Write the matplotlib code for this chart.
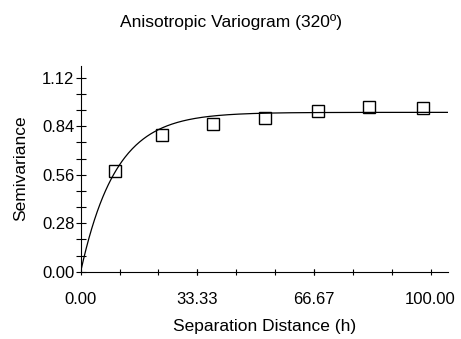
import matplotlib
matplotlib.use("Agg")
import matplotlib.pyplot as plt
import numpy as np
from matplotlib.ticker import FixedLocator

plt.rcParams['font.family'] = ['Liberation Sans', 'DejaVu Sans']

# Experimental variogram (lag distance, semivariance)
lag_h = [9.8, 23.1, 37.8, 52.6, 67.8, 82.5, 97.7]
semivar = [0.583, 0.789, 0.851, 0.889, 0.930, 0.953, 0.945]

# Fitted exponential model parameters
model_sill = 0.92
model_range = 30.0

x_ticks = [0.0, 33.33, 66.67, 100.0]
x_tick_labels = ["0.00", "33.33", "66.67", "100.00"]
y_ticks = [0.0, 0.28, 0.56, 0.84, 1.12]
y_tick_labels = ["0.00", "0.28", "0.56", "0.84", "1.12"]

fig = plt.figure(figsize=(4.61, 3.39), dpi=100)
ax = fig.add_axes([0.175, 0.1985, 0.797, 0.608])

# Model curve
h = np.linspace(0, 105, 400)
gamma = model_sill * (1 - np.exp(-3 * h / model_range))
ax.plot(h, gamma, color='black', lw=0.9)

# Experimental points
ax.plot(lag_h, semivar, linestyle='none', marker='s', markersize=8.6,
        markerfacecolor='none', markeredgecolor='black', markeredgewidth=1.0)

ax.set_xlim(0, 105)
ax.set_ylim(0, 1.19)

ax.set_xticks(x_ticks)
ax.set_xticklabels(x_tick_labels)
ax.set_yticks(y_ticks)
ax.set_yticklabels(y_tick_labels)
ax.xaxis.set_minor_locator(FixedLocator(np.arange(0, 101, 100 / 9)))
ax.yaxis.set_minor_locator(FixedLocator(np.arange(0, 1.13, 0.28 / 3)))

ax.spines['top'].set_visible(False)
ax.spines['right'].set_visible(False)
for s in ['left', 'bottom']:
    ax.spines[s].set_linewidth(0.8)

ax.tick_params(axis='y', which='both', direction='inout', length=7, width=0.8,
               labelsize=12, pad=1)
ax.tick_params(axis='x', which='both', direction='inout', length=5, width=0.8,
               labelsize=12, pad=12)

ax.set_xlabel('Separation Distance (h)', fontsize=12.5, labelpad=9)
ax.set_ylabel('Semivariance', fontsize=12.5, labelpad=10)

fig.text(0.5, 1 - 22 / 339, 'Anisotropic Variogram (320º)', ha='center',
         va='center', fontsize=12.5)

fig.savefig('out.png', dpi=100)
